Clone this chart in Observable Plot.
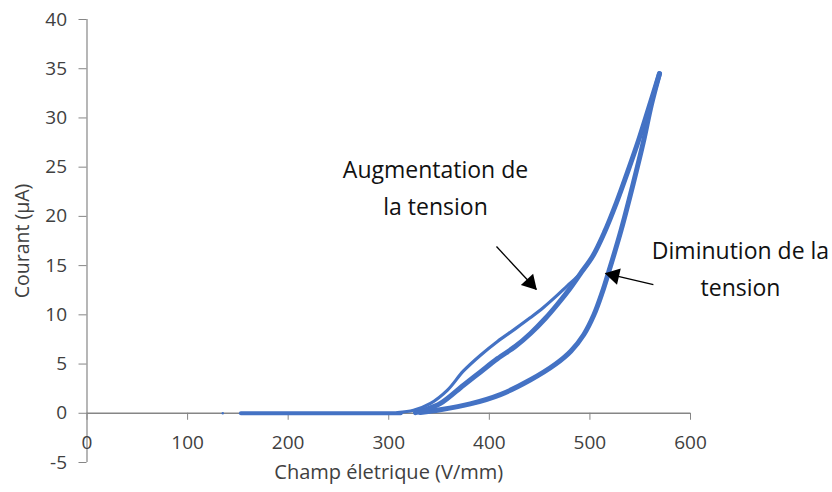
<!DOCTYPE html>
<html><head><meta charset="utf-8">
<script src="https://cdn.jsdelivr.net/npm/d3@7"></script>
<script src="https://cdn.jsdelivr.net/npm/@observablehq/plot@0.6"></script>
<style>body{margin:0;background:#fff} #chart{width:832px;height:492px}</style>
</head><body><div id="chart"></div>
<script>
// ---- data ----
const xTicks = [0, 100, 200, 300, 400, 500, 600];
const yTicks = [-5, 0, 5, 10, 15, 20, 25, 30, 35, 40];
const xTitle = "Champ életrique (V/mm)";
const yTitle = "Courant (µA)";

// baseline segment (no current below ~310 V/mm)
const baseline = [[153, 0], [200, 0], [250, 0], [300, 0], [312, 0]];
const lonePoint = [[135, 0]];

// first rise of the voltage (upper, thin branch)
const riseFirst = [
  [308.7, 0.07], [324.6, 0.3], [341.5, 1.0], [358.4, 2.35], [374.3, 4.3],
  [391.2, 5.9], [408.1, 7.3], [426.0, 8.6], [440.9, 9.72], [453.8, 10.75],
  [466.0, 11.85], [478.0, 13.0], [490.6, 14.19], [502.6, 15.92], [514.5, 18.4],
  [526.4, 21.4], [537.4, 24.5], [548.3, 27.7], [560.3, 31.6], [569.2, 34.51]
];
// second rise (middle branch)
const riseSecond = [
  [326.6, 0.07], [334.5, 0.3], [351.4, 1.0], [374.3, 2.85], [391.2, 4.2],
  [408.1, 5.55], [426.0, 6.8], [440.9, 8.1], [455.8, 9.65], [468.0, 11.1],
  [480.0, 12.65], [490.6, 14.19], [502.6, 15.92], [514.5, 18.4], [526.4, 21.4],
  [537.4, 24.5], [548.3, 27.7], [560.3, 31.6], [569.2, 34.51]
];
// decrease of the voltage (lower branch)
const fall = [
  [569.2, 34.51], [561.0, 31.3], [553.0, 27.5], [543.0, 23.3], [531.0, 18.6],
  [520.0, 14.8], [512.0, 12.2], [504.0, 10.0], [494.0, 8.0], [481.0, 6.3],
  [466.0, 5.0], [441.0, 3.4], [411.0, 1.9], [381.0, 0.95], [351.0, 0.35], [331.5, 0.07]
];

// annotations: label text, label position, arrow start -> tip
const noteLabels = ["Augmentation de\nla tension", "Diminution de la\ntension"];
const noteX = [346.5, 649.7];
const noteY = [23.2, 15.0];
const arrowX1 = [407.1, 563.1];
const arrowY1 = [16.94, 13.08];
const arrowX2 = [446.8, 515.4];
const arrowY2 = [12.57, 14.2];

// ---- build ----
const W = 832, H = 492;
const mL = 86.5, mR = 142, mT = 19, mB = 30;
const kx = (W - mL - mR) / 600;       // px per V/mm
const ky = (H - mT - mB) / 45;        // px per µA
const headOffset = 9;                  // px from tip to triangle centre

const notes = noteLabels.map((t, i) => ({t, x: noteX[i], y: noteY[i]}));
const arrows = arrowX1.map((x1, i) => {
  const dxp = (arrowX2[i] - x1) * kx, dyp = -(arrowY2[i] - arrowY1[i]) * ky;
  const len = Math.hypot(dxp, dyp), ux = dxp / len, uy = dyp / len;
  return {
    x1, y1: arrowY1[i], x2: arrowX2[i], y2: arrowY2[i],
    hx: arrowX2[i] - ux * headOffset / kx,
    hy: arrowY2[i] + uy * headOffset / ky,
    rot: Math.atan2(ux, -uy) * 180 / Math.PI
  };
});

const blue = "#4472C4";
const axisGray = "#868686";
const tickText = "#404040";
const fmt = d => String(d);

const chart = Plot.plot({
  width: W, height: H,
  marginLeft: mL, marginRight: mR, marginTop: mT, marginBottom: mB,
  style: {fontFamily: "'Open Sans', sans-serif", background: "#fff"},
  x: {domain: [0, 600]},
  y: {domain: [-5, 40]},
  marks: [
    Plot.ruleX([0], {y1: -5, y2: 40, stroke: axisGray, strokeWidth: 1.2}),
    Plot.ruleY([0], {x1: 0, x2: 600, stroke: axisGray, strokeWidth: 1.5}),
    Plot.axisY(yTicks, {tickSize: 8, tickPadding: 12, fontSize: 19, tickFormat: fmt, stroke: axisGray, fill: tickText, label: null}),
    Plot.axisX(xTicks, {tickSize: 7, tickPadding: 15, fontSize: 19, tickFormat: fmt, dy: -5 * ky, stroke: axisGray, fill: tickText, label: null}),
    Plot.text([xTitle], {frameAnchor: "bottom", dy: 16, fontSize: 20, fill: tickText}),
    Plot.text([yTitle], {frameAnchor: "left", textAnchor: "middle", dx: -64.5, rotate: -90, fontSize: 19.5, fill: tickText}),
    Plot.line(baseline, {x: d => d[0], y: d => d[1], stroke: blue, strokeWidth: 4}),
    Plot.dot(lonePoint, {x: d => d[0], y: d => d[1], r: 1.2, fill: blue}),
    Plot.line(fall, {x: d => d[0], y: d => d[1], stroke: blue, strokeWidth: 5, curve: "catmull-rom"}),
    Plot.line(riseSecond, {x: d => d[0], y: d => d[1], stroke: blue, strokeWidth: 5, curve: "catmull-rom"}),
    Plot.line(riseFirst, {x: d => d[0], y: d => d[1], stroke: blue, strokeWidth: 3.2, curve: "catmull-rom"}),
    Plot.link(arrows, {x1: "x1", y1: "y1", x2: "x2", y2: "y2", stroke: "#000", strokeWidth: 1.3}),
    Plot.dot(arrows, {x: "hx", y: "hy", symbol: "triangle", r: 6.2, rotate: "rot", fill: "#000", stroke: "none"}),
    Plot.text(notes, {x: "x", y: "y", text: "t", fontSize: 23, lineHeight: 1.6, fill: "#111"})
  ]
});
document.getElementById("chart").append(chart);
</script>
</body></html>
